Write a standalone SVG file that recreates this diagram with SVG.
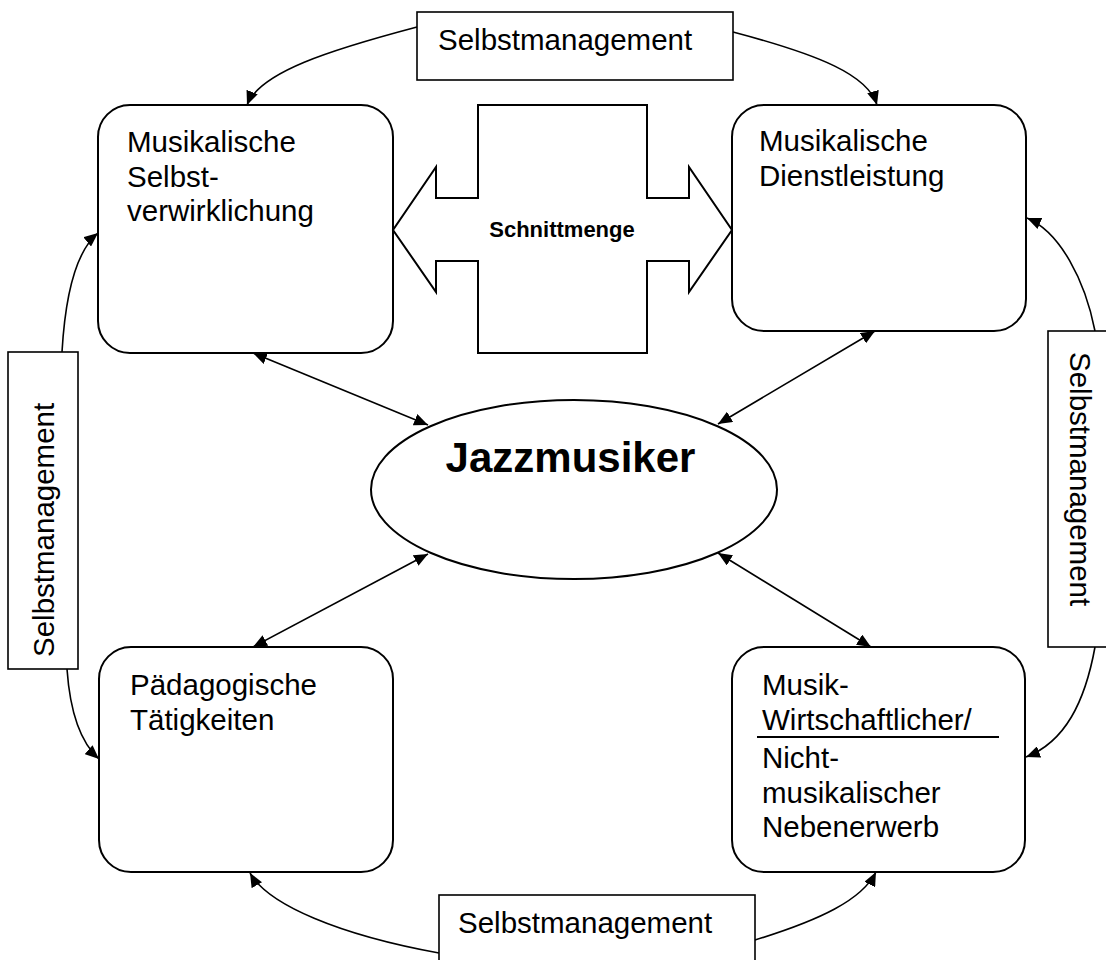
<svg xmlns="http://www.w3.org/2000/svg" width="1106" height="960" viewBox="0 0 1106 960">
<style>
  .node { fill: #fff; stroke: #000; stroke-width: 2; }
  .lbl { fill: #fff; stroke: #000; stroke-width: 1.6; }
  .t { font-family: "Liberation Sans", Arial, sans-serif; font-size: 29.5px; fill: #000; }
  .b { font-family: "Liberation Sans", Arial, sans-serif; font-weight: bold; fill: #000; }
  .c { fill: none; stroke: #000; stroke-width: 1.6; }
</style>
<defs>
  <marker id="ah" viewBox="0 0 14 12" refX="14" refY="6" markerWidth="14" markerHeight="12" markerUnits="userSpaceOnUse" orient="auto-start-reverse">
    <path d="M0,0 L14,6 L0,12 Z" fill="#000"/>
  </marker>
</defs>
<rect width="1106" height="960" fill="#fff"/>

<g id="connectors">
  <path class="c" d="M417,27 C330,50 260,72 247,105" marker-end="url(#ah)"/>
  <path class="c" d="M733,32 C820,55 868,75 877,105" marker-end="url(#ah)"/>
  <path class="c" d="M439,953 C340,935 268,905 250,873" marker-end="url(#ah)"/>
  <path class="c" d="M755,940 C820,920 862,900 876,872" marker-end="url(#ah)"/>
  <path class="c" d="M62,352 C65,300 75,252 98,233" marker-end="url(#ah)"/>
  <path class="c" d="M67,669 C70,712 80,742 99,759" marker-end="url(#ah)"/>
  <path class="c" d="M1095,331 C1085,280 1060,232 1027,218" marker-end="url(#ah)"/>
  <path class="c" d="M1095,647 C1085,702 1065,742 1026,757" marker-end="url(#ah)"/>
  <line class="c" x1="253" y1="353" x2="428" y2="425" marker-start="url(#ah)" marker-end="url(#ah)"/>
  <line class="c" x1="875" y1="331" x2="718" y2="424" marker-start="url(#ah)" marker-end="url(#ah)"/>
  <line class="c" x1="253" y1="647" x2="428" y2="554" marker-start="url(#ah)" marker-end="url(#ah)"/>
  <line class="c" x1="871" y1="647" x2="718" y2="553" marker-start="url(#ah)" marker-end="url(#ah)"/>
</g>

<g id="label-top">
  <rect class="lbl" x="417" y="12" width="316" height="68"/>
  <text class="t" x="438" y="50">Selbstmanagement</text>
</g>
<g id="label-bottom">
  <rect class="lbl" x="439" y="895" width="316" height="80"/>
  <text class="t" x="458" y="933">Selbstmanagement</text>
</g>
<g id="label-left">
  <rect class="lbl" x="8" y="352" width="70" height="317"/>
  <text class="t" transform="translate(54,657) rotate(-90)">Selbstmanagement</text>
</g>
<g id="label-right">
  <rect class="lbl" x="1048" y="331" width="80" height="316"/>
  <text class="t" transform="translate(1070,352) rotate(90)">Selbstmanagement</text>
</g>

<g id="node-selbstverwirklichung">
  <rect class="node" x="98" y="105" width="295" height="248" rx="32"/>
  <text class="t" x="127" y="152">Musikalische</text>
  <text class="t" x="127" y="186.5">Selbst-</text>
  <text class="t" x="127" y="221">verwirklichung</text>
</g>
<g id="node-dienstleistung">
  <rect class="node" x="732" y="105" width="294" height="226" rx="32"/>
  <text class="t" x="759" y="151">Musikalische</text>
  <text class="t" x="759" y="185.5">Dienstleistung</text>
</g>
<g id="node-paedagogik">
  <rect class="node" x="99" y="647" width="294" height="225" rx="32"/>
  <text class="t" x="130" y="695">Pädagogische</text>
  <text class="t" x="130" y="730">Tätigkeiten</text>
</g>
<g id="node-nebenerwerb">
  <rect class="node" x="732" y="647" width="293" height="225" rx="32"/>
  <text class="t" x="762" y="695">Musik-</text>
  <text class="t" x="762" y="730">Wirtschaftlicher/</text>
  <line x1="757" y1="737" x2="999" y2="737" stroke="#000" stroke-width="2"/>
  <text class="t" x="762" y="768">Nicht-</text>
  <text class="t" x="762" y="803">musikalischer</text>
  <text class="t" x="762" y="837">Nebenerwerb</text>
</g>
<g id="node-schnittmenge">
  <polygon class="node" points="478,105 647,105 647,198 689,198 689,167 732,230 689,292 689,261 647,261 647,353 478,353 478,261 436,261 436,292 393,230 436,167 436,198 478,198"/>
  <text class="b" x="562" y="237" font-size="22" text-anchor="middle">Schnittmenge</text>
</g>
<g id="node-jazzmusiker">
  <ellipse class="node" cx="574" cy="489.5" rx="203" ry="89.5"/>
  <text class="b" x="570.5" y="472" font-size="42" text-anchor="middle">Jazzmusiker</text>
</g>
</svg>
